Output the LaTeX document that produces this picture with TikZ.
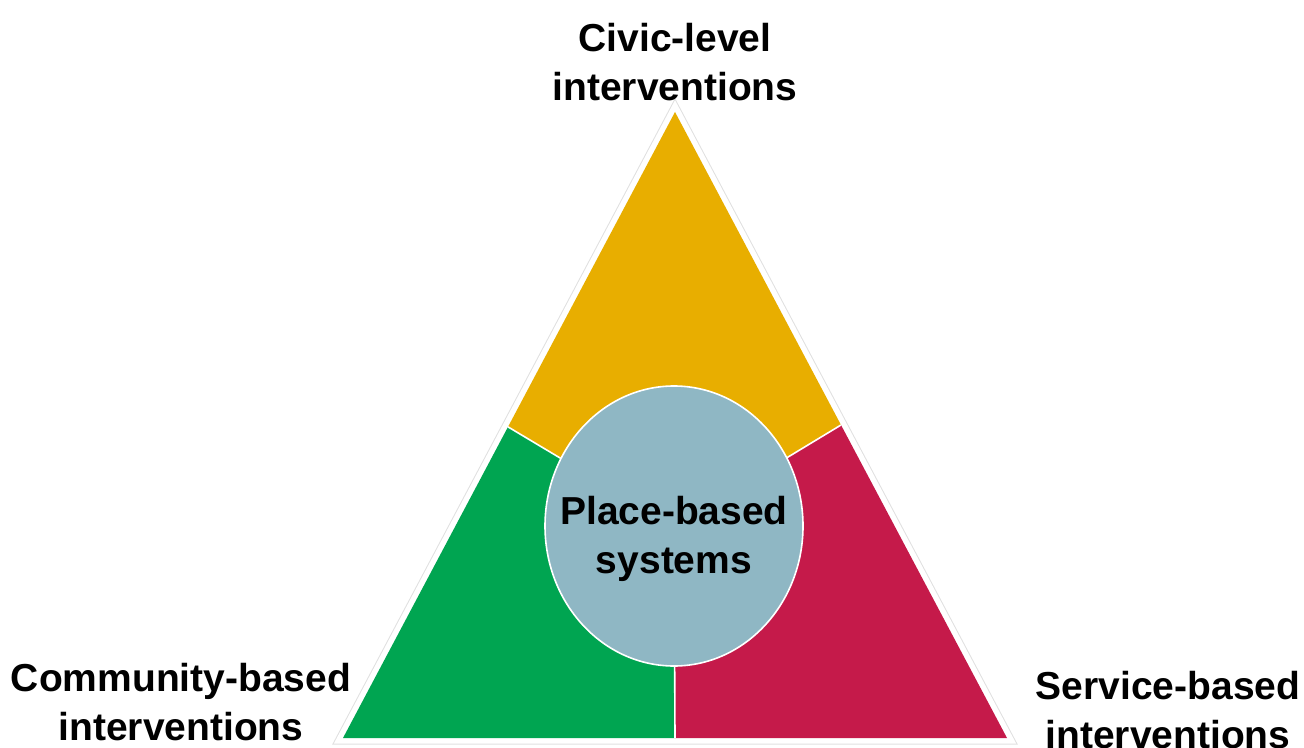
\documentclass[tikz,border=0pt]{standalone}
\usepackage{fontspec}
\setmainfont{Liberation Sans}
\usetikzlibrary{calc}
\definecolor{civic}{RGB}{232,174,0}
\definecolor{community}{RGB}{0,165,81}
\definecolor{service}{RGB}{197,26,74}
\definecolor{place}{RGB}{143,183,196}
\begin{document}
\begin{tikzpicture}[x=0.5pt,y=-0.5pt,
		heading/.style={font=\fontsize{19.5}{24.5}\selectfont\bfseries,align=center}]
	\useasboundingbox (0,0) rectangle (1304,748);
	\coordinate (top) at (675,112);
	\coordinate (bl) at (343,738);
	\coordinate (br) at (1007,738);
	\coordinate (mid) at (674,526);
	\coordinate (cl) at ($(top)!0.503!(bl)$);
	\coordinate (cr) at ($(top)!0.5!(br)$);
	\coordinate (cb) at ($(bl)!0.5!(br)$);
	% white rim round the triangle
	\draw[black!12,line width=6.5pt] (top) -- (bl) -- (br) -- cycle;
	\draw[white,line width=5.5pt] (top) -- (bl) -- (br) -- cycle;
	% three parts
	\fill[civic] (top) -- (cr) -- (mid) -- (cl) -- cycle;
	\fill[community] (cl) -- (mid) -- (cb) -- (bl) -- cycle;
	\fill[service] (cr) -- (br) -- (cb) -- (mid) -- cycle;
	\draw[white,line width=0.8pt] (cl) -- (mid) -- (cr) (mid) -- (cb);
	\filldraw[fill=place,draw=white,line width=0.8pt] (mid) ellipse [x radius=129,y radius=140];
	% texts
	\node[heading] (hub) at (674,539) {Place-based\\systems};
	\node[heading] (civictxt) at (675,62) {Civic-level\\interventions};
	\node[heading] (commtxt) at (181,702) {Community-based\\interventions};
	\node[heading] (servtxt) at (1168,710) {Service-based\\interventions};
\end{tikzpicture}
\end{document}
